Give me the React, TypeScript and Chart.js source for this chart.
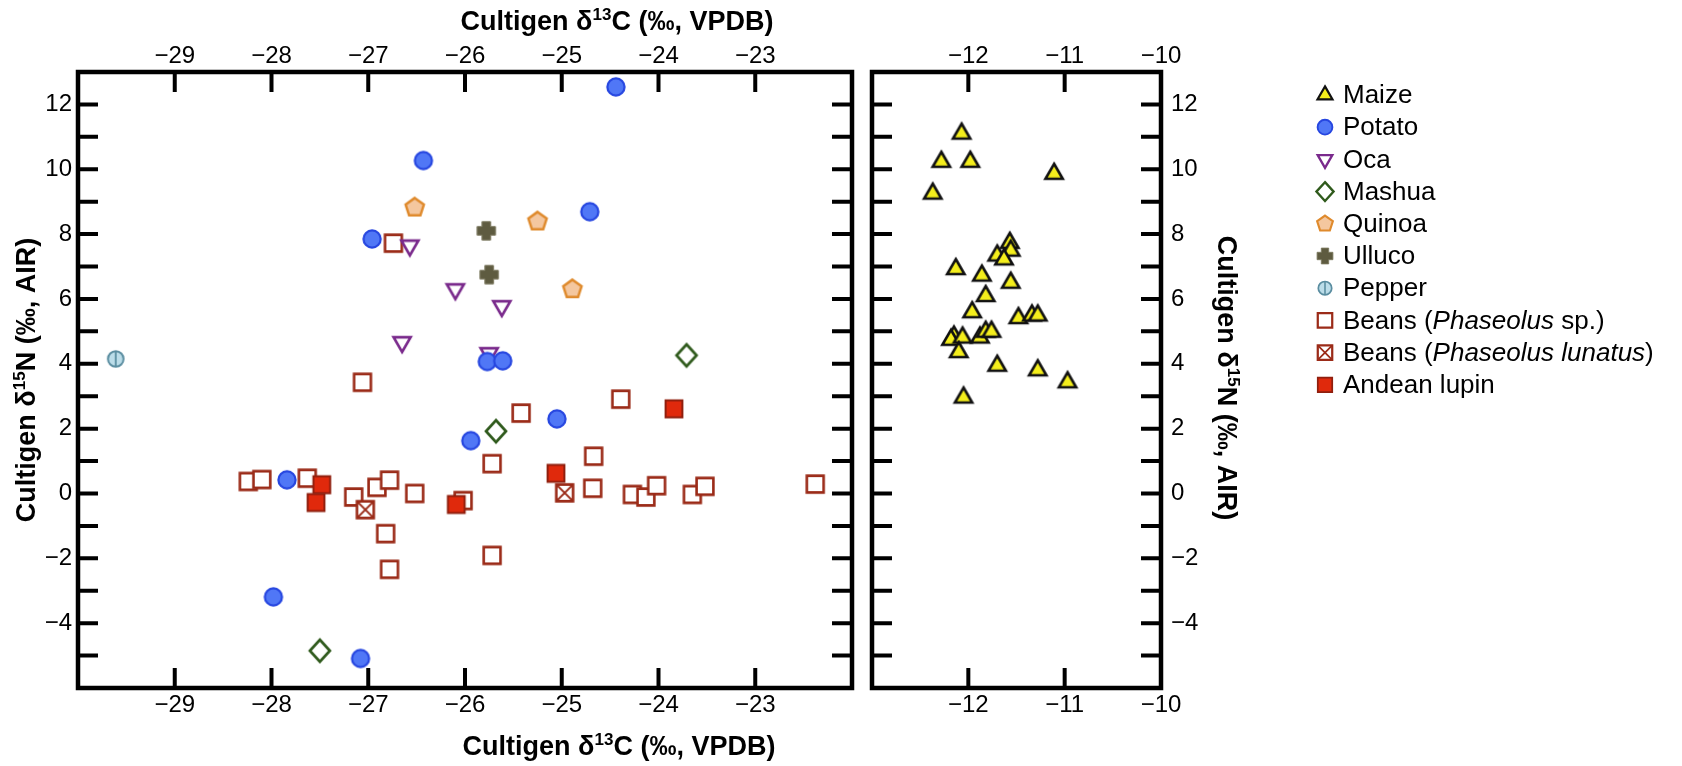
import React, { useEffect, useRef } from 'react';
import { Chart, registerables } from 'chart.js';

Chart.register(...registerables);

const FONT = "'Liberation Sans', Arial, Helvetica, sans-serif";

// ---------- DATA ----------
const seriesKeys = ['maize', 'potato', 'oca', 'mashua', 'quinoa', 'ulluco', 'pepper', 'beans', 'lunatus', 'lupin'];
const seriesLabels = [
  [{ t: 'Maize' }],
  [{ t: 'Potato' }],
  [{ t: 'Oca' }],
  [{ t: 'Mashua' }],
  [{ t: 'Quinoa' }],
  [{ t: 'Ulluco' }],
  [{ t: 'Pepper' }],
  [{ t: 'Beans (' }, { t: 'Phaseolus', it: true }, { t: ' sp.)' }],
  [{ t: 'Beans (' }, { t: 'Phaseolus lunatus', it: true }, { t: ')' }],
  [{ t: 'Andean lupin' }],
];

const maizeC = [-12.07, -12.28, -11.98, -11.11, -12.37, -11.57, -11.56, -11.70, -11.63, -12.13, -11.86, -11.56, -11.82, -11.96, -11.48, -11.34, -11.28, -12.15, -12.18, -12.06, -11.88, -11.82, -11.76, -12.10, -11.70, -11.28, -10.97, -12.05];
const maizeN = [11.10, 10.23, 10.23, 9.86, 9.25, 7.73, 7.49, 7.34, 7.22, 6.92, 6.72, 6.50, 6.09, 5.59, 5.41, 5.49, 5.49, 4.84, 4.74, 4.81, 4.81, 4.99, 4.99, 4.36, 3.94, 3.80, 3.43, 2.96];

const potatoC = [-24.44, -26.43, -24.71, -26.96, -25.77, -25.61, -25.05, -25.94, -27.84, -27.98, -27.08];
const potatoN = [12.54, 10.27, 8.69, 7.85, 4.07, 4.09, 2.30, 1.63, 0.42, -3.19, -5.09];

const ocaC = [-26.57, -26.10, -25.62, -26.65, -25.75];
const ocaN = [7.65, 6.30, 5.78, 4.67, 4.33];

const mashuaC = [-23.71, -25.68, -27.50];
const mashuaN = [4.26, 1.92, -4.85];

const quinoaC = [-26.52, -25.25, -24.89];
const quinoaN = [8.82, 8.39, 6.30];

const ullucoC = [-25.78, -25.75];
const ullucoN = [8.10, 6.75];

const pepperC = [-29.61];
const pepperN = [4.15];

const beansC = [-26.74, -27.06, -24.39, -25.42, -24.67, -25.72, -28.24, -28.10, -27.63, -27.15, -26.91, -26.78, -26.52, -26.82, -26.78, -26.02, -25.72, -24.68, -24.27, -24.13, -24.02, -23.65, -23.52, -22.38];
const beansN = [7.72, 3.43, 2.91, 2.48, 1.15, 0.92, 0.37, 0.43, 0.47, -0.11, 0.19, 0.41, 0.00, -1.24, -2.34, -0.22, -1.91, 0.16, -0.03, -0.11, 0.24, -0.03, 0.22, 0.29];

const lunatusC = [-27.03, -24.97];
const lunatusN = [-0.50, 0.02];

const lupinC = [-23.84, -25.06, -27.48, -27.54, -26.09];
const lupinN = [2.61, 0.62, 0.27, -0.28, -0.34];

const leftXRange = [-30, -22];
const rightXRange = [-13, -10];
const yRange = [-6, 13];

const xTitleParts = [{ t: 'Cultigen \u03B4' }, { t: '13', sup: true }, { t: 'C (\u2030, VPDB)' }];
const yTitleParts = [{ t: 'Cultigen \u03B4' }, { t: '15', sup: true }, { t: 'N (\u2030, AIR)' }];

// ---------- MARKERS ----------
function drawShape(ctx: CanvasRenderingContext2D, kind: string, x: number, y: number, s: number) {
  ctx.save();
  ctx.lineJoin = 'miter';
  ctx.beginPath();
  if (kind === 'maize') {
    const r = 10 * s;
    ctx.moveTo(x, y - r);
    ctx.lineTo(x + r * 0.866, y + r * 0.5);
    ctx.lineTo(x - r * 0.866, y + r * 0.5);
    ctx.closePath();
    ctx.fillStyle = '#f4ee1c'; ctx.fill();
    ctx.strokeStyle = '#111'; ctx.lineWidth = 2.6 * s; ctx.stroke();
  } else if (kind === 'potato') {
    ctx.arc(x, y, 8.6 * s, 0, Math.PI * 2);
    ctx.fillStyle = '#5077f6'; ctx.fill();
    ctx.strokeStyle = '#2646e0'; ctx.lineWidth = 2.2 * s; ctx.stroke();
  } else if (kind === 'oca') {
    const r = 9.8 * s;
    ctx.moveTo(x, y + r);
    ctx.lineTo(x + r * 0.866, y - r * 0.5);
    ctx.lineTo(x - r * 0.866, y - r * 0.5);
    ctx.closePath();
    ctx.fillStyle = '#fff'; ctx.fill();
    ctx.strokeStyle = '#7a2a8c'; ctx.lineWidth = 2.7 * s; ctx.stroke();
  } else if (kind === 'mashua') {
    const h = 11 * s, w = 10 * s;
    ctx.moveTo(x, y - h); ctx.lineTo(x + w, y); ctx.lineTo(x, y + h); ctx.lineTo(x - w, y);
    ctx.closePath();
    ctx.fillStyle = '#fff'; ctx.fill();
    ctx.strokeStyle = '#2f5a1c'; ctx.lineWidth = 2.7 * s; ctx.stroke();
  } else if (kind === 'quinoa') {
    const r = 9.6 * s;
    for (let k = 0; k < 5; k++) {
      const a = -Math.PI / 2 + (k * 2 * Math.PI) / 5;
      const px = x + r * Math.cos(a), py = y + r * Math.sin(a);
      if (k === 0) ctx.moveTo(px, py); else ctx.lineTo(px, py);
    }
    ctx.closePath();
    ctx.fillStyle = '#f4c79f'; ctx.fill();
    ctx.strokeStyle = '#df8a2c'; ctx.lineWidth = 2.5 * s; ctx.stroke();
  } else if (kind === 'ulluco') {
    const L = 9.2 * s, T = 4.3 * s;
    ctx.moveTo(x - T, y - L); ctx.lineTo(x + T, y - L); ctx.lineTo(x + T, y - T); ctx.lineTo(x + L, y - T);
    ctx.lineTo(x + L, y + T); ctx.lineTo(x + T, y + T); ctx.lineTo(x + T, y + L); ctx.lineTo(x - T, y + L);
    ctx.lineTo(x - T, y + T); ctx.lineTo(x - L, y + T); ctx.lineTo(x - L, y - T); ctx.lineTo(x - T, y - T);
    ctx.closePath();
    ctx.fillStyle = '#5e5b40'; ctx.fill();
    ctx.strokeStyle = '#7d7a60'; ctx.lineWidth = 1 * s; ctx.stroke();
  } else if (kind === 'pepper') {
    const r = 7.8 * s;
    ctx.arc(x, y, r, 0, Math.PI * 2);
    ctx.fillStyle = '#bcdde9'; ctx.fill();
    ctx.strokeStyle = '#5a8da0'; ctx.lineWidth = 2 * s; ctx.stroke();
    ctx.beginPath(); ctx.moveTo(x, y - r); ctx.lineTo(x, y + r);
    ctx.lineWidth = 1.8 * s; ctx.stroke();
  } else if (kind === 'beans' || kind === 'lunatus') {
    const h = 8.4 * s;
    ctx.rect(x - h, y - h, 2 * h, 2 * h);
    ctx.fillStyle = '#fff'; ctx.fill();
    ctx.strokeStyle = '#9b2b18'; ctx.lineWidth = 2.6 * s; ctx.stroke();
    if (kind === 'lunatus') {
      ctx.beginPath();
      ctx.moveTo(x - h, y - h); ctx.lineTo(x + h, y + h);
      ctx.moveTo(x + h, y - h); ctx.lineTo(x - h, y + h);
      ctx.lineWidth = 2 * s; ctx.stroke();
    }
  } else if (kind === 'lupin') {
    const h = 8.4 * s;
    ctx.rect(x - h, y - h, 2 * h, 2 * h);
    ctx.fillStyle = '#e0290c'; ctx.fill();
    ctx.strokeStyle = '#8f1f0e'; ctx.lineWidth = 2 * s; ctx.stroke();
  }
  ctx.restore();
}

function makeMarker(kind: string): HTMLCanvasElement {
  const size = 30;
  const c = document.createElement('canvas');
  c.width = size; c.height = size;
  const ctx = c.getContext('2d')!;
  drawShape(ctx, kind, size / 2, size / 2, 1);
  return c;
}

// ---------- TEXT HELPERS ----------
type Part = { t: string; sup?: boolean; it?: boolean };
function drawRich(ctx: CanvasRenderingContext2D, parts: Part[], cx: number, cy: number, rot: number, size: number, bold: boolean, align: 'center' | 'left') {
  ctx.save();
  ctx.translate(cx, cy);
  ctx.rotate(rot);
  const fontFor = (p: Part) => `${p.it ? 'italic ' : ''}${bold ? 'bold ' : ''}${p.sup ? Math.round(size * 0.64) : size}px ${FONT}`;
  let w = 0;
  for (const p of parts) { ctx.font = fontFor(p); w += ctx.measureText(p.t).width; }
  let x = align === 'center' ? -w / 2 : 0;
  ctx.textBaseline = 'middle';
  ctx.textAlign = 'left';
  ctx.fillStyle = '#000';
  for (const p of parts) {
    ctx.font = fontFor(p);
    ctx.fillText(p.t, x, p.sup ? -size * 0.3 : 0);
    x += ctx.measureText(p.t).width;
  }
  ctx.restore();
}

function drawFrame(chart: any) {
  const { ctx, chartArea: a } = chart;
  const xs = chart.scales.x, ys = chart.scales.y;
  ctx.save();
  ctx.strokeStyle = '#000';
  ctx.lineCap = 'butt';
  ctx.lineWidth = 4;
  ctx.beginPath();
  xs.ticks.forEach((t: any) => {
    if (t.value <= xs.min || t.value >= xs.max) return;
    const p = xs.getPixelForValue(t.value);
    ctx.moveTo(p, a.bottom); ctx.lineTo(p, a.bottom - 20);
    ctx.moveTo(p, a.top); ctx.lineTo(p, a.top + 20);
  });
  ys.ticks.forEach((t: any) => {
    if (t.value <= ys.min || t.value >= ys.max) return;
    const p = ys.getPixelForValue(t.value);
    ctx.moveTo(a.left, p); ctx.lineTo(a.left + 20, p);
    ctx.moveTo(a.right, p); ctx.lineTo(a.right - 20, p);
  });
  ctx.stroke();
  ctx.lineWidth = 4.5;
  ctx.strokeRect(a.left, a.top, a.right - a.left, a.bottom - a.top);
  ctx.restore();
}

const fmt = (v: number) => (v < 0 ? '\u2212' + Math.abs(v) : String(v));
const tickFont = { family: FONT, size: 24, lineHeight: 1 };

function pts(cs: number[], ns: number[]) {
  return cs.map((c, i) => ({ x: c, y: ns[i] }));
}

function xScale(range: number[], position: 'top' | 'bottom', hideMax: boolean) {
  return {
    type: 'linear', position, min: range[0], max: range[1],
    ticks: {
      stepSize: 1, font: tickFont, color: '#000', padding: position === 'top' ? 4 : 5,
      maxRotation: 0, autoSkip: false,
      callback: (v: any) => {
        const n = Number(v);
        if (n === range[0] || (hideMax && n === range[1])) return '';
        return fmt(n);
      },
    },
    grid: { display: false, drawTicks: false },
    border: { display: false },
    afterFit: (s: any) => { s.height = position === 'top' ? 72 : 78; },
  };
}

function yScale(position: 'left' | 'right') {
  return {
    type: 'linear', position, min: yRange[0], max: yRange[1],
    ticks: {
      stepSize: 1, font: tickFont, color: '#000', padding: position === 'left' ? 6 : 10, autoSkip: false,
      callback: (v: any) => {
        const n = Number(v);
        if (n <= yRange[0] || n >= yRange[1] || Math.abs(n % 2) !== 0) return '';
        return fmt(n);
      },
    },
    grid: { display: false, drawTicks: false },
    border: { display: false },
    afterFit: (s: any) => { s.width = position === 'left' ? 78 : 60; },
  };
}

export default function App() {
  const leftRef = useRef<HTMLCanvasElement>(null);
  const rightRef = useRef<HTMLCanvasElement>(null);

  useEffect(() => {
    document.body.style.margin = '0';
    const m: Record<string, HTMLCanvasElement> = {};
    seriesKeys.forEach((k) => { m[k] = makeMarker(k); });
    const ds = (key: string, data: any[]) => ({
      label: key, data, pointStyle: m[key], pointRadius: 9, showLine: false,
    });

    const leftPlugin = {
      id: 'leftDecor',
      afterDraw(chart: any) {
        drawFrame(chart);
        const ctx = chart.ctx;
        drawRich(ctx, xTitleParts, 617, 23, 0, 27, true, 'center');
        drawRich(ctx, xTitleParts, 619, 748, 0, 27, true, 'center');
        drawRich(ctx, yTitleParts, 28, 380, -Math.PI / 2, 27, true, 'center');
      },
    };
    const rightPlugin = {
      id: 'rightDecor',
      afterDraw(chart: any) {
        drawFrame(chart);
        const ctx = chart.ctx;
        drawRich(ctx, yTitleParts, 363, 378, Math.PI / 2, 27, true, 'center');
        seriesKeys.forEach((k, i) => {
          const y = 95 + i * 32.2;
          drawShape(ctx, k, 463, y, 0.86);
          drawRich(ctx, seriesLabels[i] as Part[], 481, y + 1, 0, 26, false, 'left');
        });
      },
    };

    const common = {
      responsive: false,
      devicePixelRatio: 1,
      animation: false as const,
      events: [] as any[],
      plugins: { legend: { display: false }, tooltip: { enabled: false } },
    };

    const c1 = new Chart(leftRef.current!, {
      type: 'scatter',
      data: {
        datasets: [
          ds('potato', pts(potatoC, potatoN)),
          ds('lupin', pts(lupinC, lupinN)),
          ds('lunatus', pts(lunatusC, lunatusN)),
          ds('oca', pts(ocaC, ocaN)),
          ds('mashua', pts(mashuaC, mashuaN)),
          ds('quinoa', pts(quinoaC, quinoaN)),
          ds('ulluco', pts(ullucoC, ullucoN)),
          ds('pepper', pts(pepperC, pepperN)),
          ds('beans', pts(beansC, beansN)),
        ],
      },
      options: {
        ...common,
        layout: { padding: { left: 0, right: 6, top: 0, bottom: 0 } },
        scales: {
          x: xScale(leftXRange, 'bottom', true),
          xTop: xScale(leftXRange, 'top', true),
          y: yScale('left'),
        } as any,
      },
      plugins: [leftPlugin],
    } as any);

    const c2 = new Chart(rightRef.current!, {
      type: 'scatter',
      data: { datasets: [ds('maize', pts(maizeC, maizeN))] },
      options: {
        ...common,
        layout: { padding: { left: 5, right: 461, top: 0, bottom: 0 } },
        scales: {
          x: xScale(rightXRange, 'bottom', false),
          xTop: xScale(rightXRange, 'top', false),
          y: yScale('right'),
        } as any,
      },
      plugins: [rightPlugin],
    } as any);

    return () => { c1.destroy(); c2.destroy(); };
  }, []);

  return (
    <div style={{ position: 'fixed', left: 0, top: 0, width: 1682, height: 766, background: '#fff', overflow: 'hidden' }}>
      <canvas ref={leftRef} width={862} height={766} style={{ position: 'absolute', left: 0, top: 0, width: 862, height: 766 }} />
      <canvas ref={rightRef} width={820} height={766} style={{ position: 'absolute', left: 862, top: 0, width: 820, height: 766 }} />
    </div>
  );
}
